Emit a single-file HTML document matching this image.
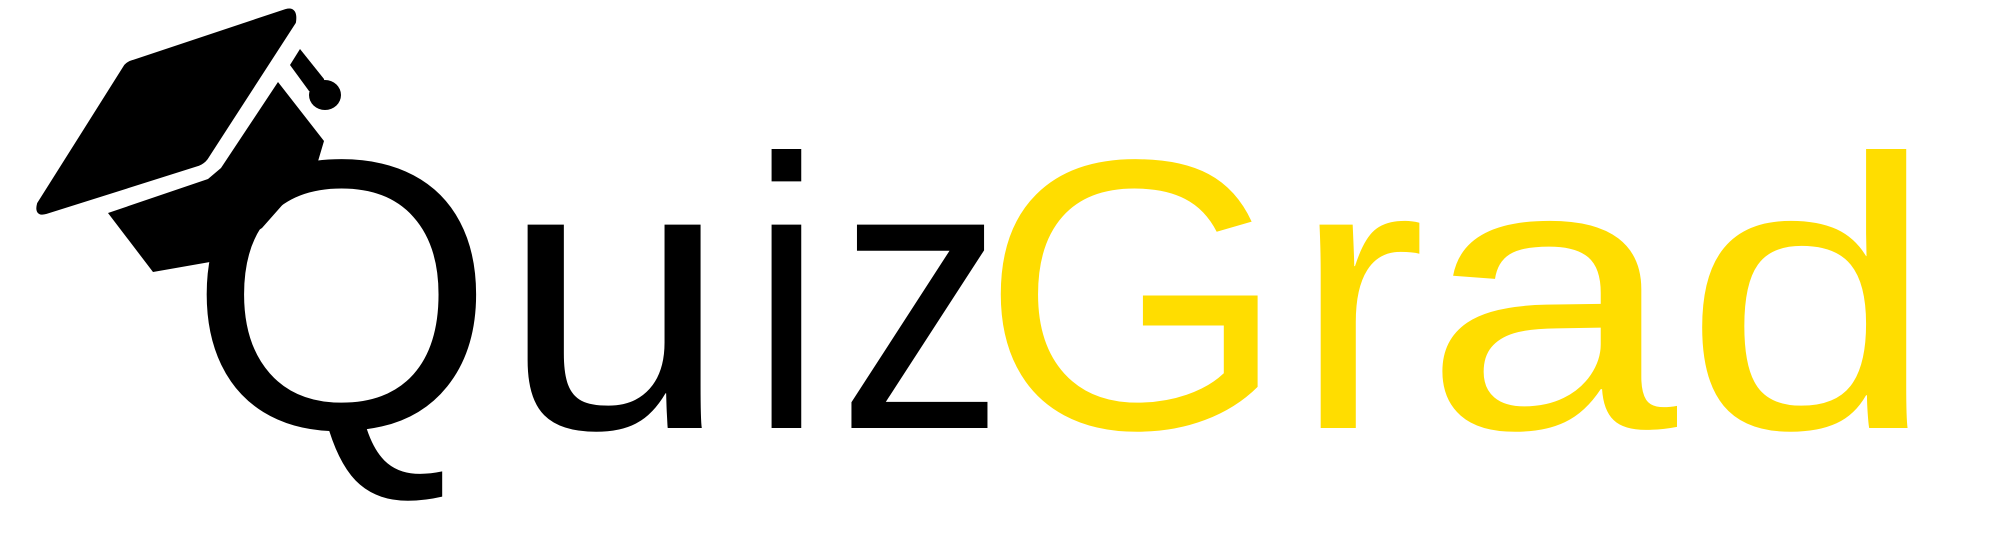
<!DOCTYPE html>
<html><head><meta charset="utf-8"><style>
html,body{margin:0;padding:0;background:#fff;}
svg{display:block;}
text{font-family:"Liberation Sans",sans-serif;font-size:385px;}
</style></head><body>
<svg width="2000" height="536" viewBox="0 0 2000 536">
<g fill="#000">
<path d="M286,11 Q296,8 294,22 L206,158 Q203,162 198,164 L46,212 Q36,215 39,204 L126,66 Q129,63 133,62 Z" stroke="#000" stroke-width="4" stroke-linejoin="round"/>
<polygon points="278,82 324,141 316,168 300,185 262,228 210,262 153,272 108,213 208,179 221,168"/>
<polygon points="300,49 324,79 326,95 309,91 290,65"/>
<ellipse cx="325" cy="95" rx="16" ry="15"/>
</g>
<g>
<text x="188" y="428" textLength="307" lengthAdjust="spacingAndGlyphs" fill="#000">Q</text>
<text x="501" y="428" textLength="228" lengthAdjust="spacingAndGlyphs" fill="#000">u</text>
<text x="749" y="428" textLength="75" lengthAdjust="spacingAndGlyphs" fill="#000">i</text>
<text x="838" y="428" textLength="166" lengthAdjust="spacingAndGlyphs" fill="#000">z</text>
<text x="981" y="428" textLength="306" lengthAdjust="spacingAndGlyphs" fill="#FFDD00">G</text>
<text x="1293" y="428" textLength="133" lengthAdjust="spacingAndGlyphs" fill="#FFDD00">r</text>
<text x="1423" y="428" textLength="254" lengthAdjust="spacingAndGlyphs" fill="#FFDD00">a</text>
<text x="1683" y="428" textLength="254" lengthAdjust="spacingAndGlyphs" fill="#FFDD00">d</text>
</g>
</svg>
</body></html>
